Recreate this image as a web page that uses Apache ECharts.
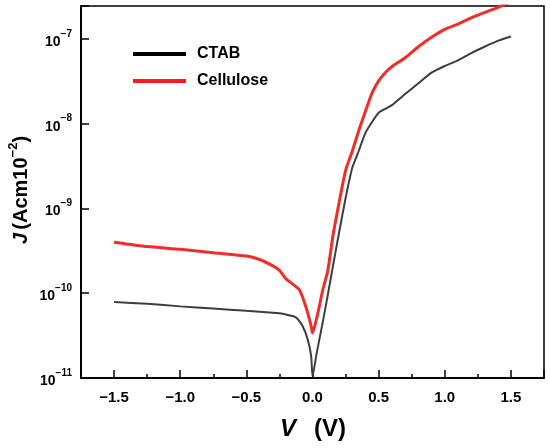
<!DOCTYPE html>
<html>
<head>
    <meta charset="utf-8">
    <title>J-V</title>
    <script src="https://cdn.jsdelivr.net/npm/echarts@6/dist/echarts.min.js"></script>
    <style>
        html, body { margin: 0; padding: 0; background: #fff; }
        #chart { width: 550px; height: 448px; }
    </style>
</head>
<body>
<div id="chart"></div>
<script type="text/javascript">
    // 读图得到的数据 (V, J)
    var ctabV = [-1.5, -1.25, -1.0, -0.75, -0.5, -0.3, -0.25, -0.2, -0.125, -0.075, -0.035, -0.01, 0.0,
        0.03, 0.066, 0.1, 0.15, 0.2, 0.25, 0.3, 0.35, 0.4, 0.45, 0.5, 0.55, 0.6, 0.7, 0.8, 0.9, 1.0, 1.1, 1.2, 1.3, 1.4, 1.5];
    var ctabJ = [7.9e-11, 7.5e-11, 7.0e-11, 6.6e-11, 6.2e-11, 5.9e-11, 5.8e-11, 5.6e-11, 5.2e-11, 4.1e-11, 2.8e-11, 1.8e-11, 1.05e-11,
        1.9e-11, 3.7e-11, 7.0e-11, 1.9e-10, 5.1e-10, 1.32e-9, 3.0e-9, 4.8e-9, 7.8e-9, 1.05e-8, 1.35e-8, 1.5e-8, 1.66e-8,
        2.24e-8, 3.0e-8, 4.0e-8, 4.8e-8, 5.6e-8, 6.8e-8, 8.1e-8, 9.5e-8, 1.07e-7];

    var celluloseV = [-1.5, -1.25, -1.0, -0.75, -0.5, -0.4, -0.3, -0.25, -0.2, -0.1, -0.05, -0.01, 0.0,
        0.04, 0.078, 0.116, 0.154, 0.2, 0.25, 0.3, 0.35, 0.4, 0.45, 0.5, 0.55, 0.6, 0.7, 0.8, 0.9, 1.0, 1.1, 1.2, 1.3, 1.4, 1.5];
    var celluloseJ = [4.0e-10, 3.55e-10, 3.3e-10, 3.0e-10, 2.75e-10, 2.5e-10, 2.1e-10, 1.86e-10, 1.48e-10, 1.1e-10, 6.9e-11, 4.1e-11, 3.4e-11,
        5.8e-11, 1.1e-10, 1.86e-10, 4.7e-10, 1.15e-9, 2.8e-9, 4.7e-9, 8.3e-9, 1.4e-8, 2.3e-8, 3.2e-8, 4.0e-8, 4.7e-8,
        6.0e-8, 8.1e-8, 1.05e-7, 1.3e-7, 1.5e-7, 1.78e-7, 2.05e-7, 2.35e-7, 2.75e-7];

    var seriesNames = ['CTAB', 'Cellulose'];

    function pairs(xs, ys) {
        var out = [];
        for (var i = 0; i < xs.length; i++) out.push([xs[i], ys[i]]);
        return out;
    }

    var myChart = echarts.init(document.getElementById('chart'));
    var font = 'Liberation Sans, Arial, sans-serif';

    myChart.setOption({
        animation: false,
        grid: {
            left: 81, right: 6, top: 6, bottom: 70,
            show: true, borderColor: '#000', borderWidth: 1.5
        },
        legend: {
            orient: 'vertical',
            left: 133,
            top: 45,
            padding: 0,
            itemWidth: 53,
            itemHeight: 4,
            itemGap: 9,
            icon: 'rect',
            textStyle: {fontFamily: font, fontSize: 16, fontWeight: 'bold', color: '#000', lineHeight: 18, padding: [0, 0, 0, 6]},
            data: [
                {name: 'CTAB', itemStyle: {color: '#000'}},
                {name: 'Cellulose', itemStyle: {color: '#ff1a1a'}}
            ]
        },
        xAxis: {
            type: 'value',
            min: -1.75,
            max: 1.75,
            splitNumber: 7,
            axisLine: {onZero: false, lineStyle: {color: '#000', width: 2}},
            axisTick: {inside: true, length: 8, lineStyle: {color: '#000', width: 1.5}},
            minorTick: {show: true, splitNumber: 2, length: 4, lineStyle: {color: '#000', width: 1.5}},
            splitLine: {show: false},
            axisLabel: {
                showMinLabel: false, showMaxLabel: false,
                margin: 12,
                fontFamily: font, fontSize: 15, fontWeight: 'bold', color: '#000',
                formatter: function (v) {
                    if (Math.abs(v * 2 - Math.round(v * 2)) > 1e-6) return '';
                    return (v < 0 ? '−' : '') + Math.abs(v).toFixed(1);
                }
            }
        },
        yAxis: {
            type: 'log',
            logBase: 10,
            min: 1e-11,
            max: 2.45e-7,
            axisLine: {onZero: false, lineStyle: {color: '#000', width: 2}},
            axisTick: {inside: true, length: 8, lineStyle: {color: '#000', width: 1.5}},
            splitLine: {show: false},
            axisLabel: {
                margin: 9,
                fontFamily: font, color: '#000',
                formatter: function (v) {
                    var e = Math.log10(v);
                    if (Math.abs(e - Math.round(e)) > 1e-6) return '';
                    return '{b|10}{s|−' + Math.abs(Math.round(e)) + '}';
                },
                rich: {
                    b: {fontFamily: font, fontSize: 14, fontWeight: 'bold', color: '#000', lineHeight: 20, verticalAlign: 'bottom'},
                    s: {fontFamily: font, fontSize: 10, fontWeight: 'bold', color: '#000', lineHeight: 12, verticalAlign: 'top'}
                }
            }
        },
        graphic: [
            {
                type: 'text',
                x: 19, y: 190,
                rotation: Math.PI / 2,
                style: {
                    text: '{i|J} {n|(Acm10}{s|−2}{n|)}',
                    align: 'center', verticalAlign: 'middle',
                    rich: {
                        i: {fontFamily: font, fontSize: 20, fontWeight: 'bold', fontStyle: 'italic', fill: '#000', lineHeight: 24, verticalAlign: 'bottom'},
                        n: {fontFamily: font, fontSize: 20, fontWeight: 'bold', fill: '#000', lineHeight: 24, verticalAlign: 'bottom'},
                        s: {fontFamily: font, fontSize: 13, fontWeight: 'bold', fill: '#000', lineHeight: 14, verticalAlign: 'top'}
                    }
                }
            },
            {
                type: 'text',
                x: 313, y: 429,
                style: {
                    text: '{i|V}{n|(V)}',
                    align: 'center', verticalAlign: 'middle',
                    rich: {
                        i: {fontFamily: font, fontSize: 24, fontWeight: 'bold', fontStyle: 'italic', fill: '#000'},
                        n: {fontFamily: font, fontSize: 24, fontWeight: 'bold', fill: '#000', padding: [0, 0, 0, 18]}
                    }
                }
            }
        ],
        series: [
            {
                name: seriesNames[0],
                type: 'line',
                showSymbol: false,
                symbol: 'none',
                smooth: 0.2,
                lineStyle: {color: '#3d3d3d', width: 2},
                itemStyle: {color: '#000'},
                data: pairs(ctabV, ctabJ)
            },
            {
                name: seriesNames[1],
                type: 'line',
                showSymbol: false,
                symbol: 'none',
                smooth: 0.2,
                lineStyle: {color: '#f22b2b', width: 3},
                itemStyle: {color: '#ff1a1a'},
                data: pairs(celluloseV, celluloseJ)
            }
        ]
    });
</script>
</body>
</html>
